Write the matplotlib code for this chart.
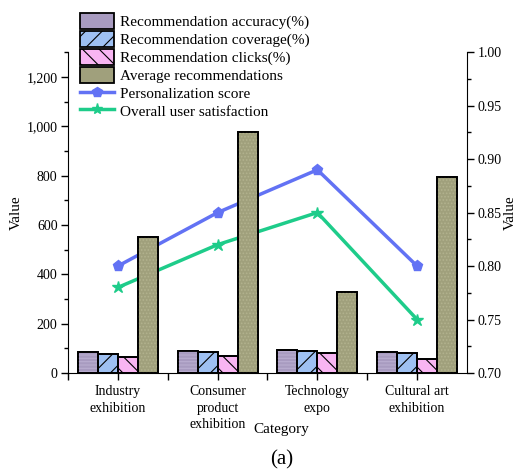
import numpy as np
import matplotlib.pyplot as plt
from matplotlib.ticker import MultipleLocator, FuncFormatter
from matplotlib.lines import Line2D
from matplotlib.patches import Patch

plt.rcParams['font.family'] = ['Liberation Serif', 'DejaVu Serif']
plt.rcParams['font.size'] = 11
plt.rcParams['hatch.linewidth'] = 0.8

# data
categories = ['Industry\nexhibition', 'Consumer\nproduct\nexhibition',
              'Technology\nexpo', 'Cultural art\nexhibition']
accuracy = [84, 89, 92, 84]
coverage = [75, 84, 88, 80]
clicks = [66, 70, 80, 58]
avg_recs = [551, 975, 327, 793]
personalization = [0.80, 0.85, 0.89, 0.80]
satisfaction = [0.78, 0.82, 0.85, 0.75]

bar_series = [
    ('Recommendation accuracy(%)', accuracy, '#a89bc0', '-----', '#b9aed0'),
    ('Recommendation coverage(%)', coverage, '#9ec0f2', '//', 'black'),
    ('Recommendation clicks(%)', clicks, '#f8b5f2', '\\\\', 'black'),
    ('Average recommendations', avg_recs, '#a0a07c', '.....', '#b2b28e'),
]

fig = plt.figure(figsize=(5.16, 4.74), dpi=100)
ax = fig.add_axes([0.1318, 0.2131, 0.7732, 0.6769])
ax2 = ax.twinx()

x = np.arange(len(categories)) + 0.5
w = 0.2
handles = []
for i, (name, vals, fc, hatch, hc) in enumerate(bar_series):
    pos = x - 0.3 + i * w
    ax.bar(pos, vals, w, color=fc, edgecolor='black', linewidth=1.3, zorder=3)
    ax.bar(pos, vals, w, color='none', edgecolor=hc, hatch=hatch, linewidth=0, zorder=3)
    ax.bar(pos, vals, w, color='none', edgecolor='black', linewidth=1.3, zorder=4)
    handles.append(Patch(facecolor=fc, edgecolor='black', hatch=hatch if hc == 'black' else None,
                         linewidth=1.3, label=name))

ax2.plot(x, personalization, color='#6272f4', lw=2.5, marker='p', ms=8, zorder=2)
ax2.plot(x, satisfaction, color='#1ecc8a', lw=2.5, marker='*', ms=9, zorder=2)
handles.append(Line2D([], [], color='#6272f4', lw=2.5, marker='p', ms=7, label='Personalization score'))
handles.append(Line2D([], [], color='#1ecc8a', lw=2.5, marker='*', ms=8, label='Overall user satisfaction'))

# lines behind bars
ax2.set_zorder(0)
ax.set_zorder(1)
ax.patch.set_visible(False)

ax.set_xlim(0, 4)
ax.set_ylim(0, 1300)
ax2.set_ylim(0.70, 1.00)
ax.set_xticks(x)
ax.set_xticklabels(categories, linespacing=1.35)
ax.set_xticks([0, 1, 2, 3], minor=True)
ax.yaxis.set_major_locator(MultipleLocator(200))
ax.yaxis.set_minor_locator(MultipleLocator(100))
ax.yaxis.set_major_formatter(FuncFormatter(lambda v, p: f'{int(v):,}'))
ax2.yaxis.set_major_locator(MultipleLocator(0.05))
ax2.yaxis.set_minor_locator(MultipleLocator(0.025))
ax2.yaxis.set_major_formatter(FuncFormatter(lambda v, p: f'{v:.2f}'))

for a in (ax, ax2):
    a.spines['top'].set_visible(False)
    a.tick_params(which='major', direction='out', length=5, width=1, labelsize=10, pad=2.5)
    a.tick_params(which='minor', direction='out', length=3, width=1)
ax.spines['right'].set_visible(False)
ax2.spines['left'].set_visible(False)
ax2.spines['bottom'].set_visible(False)
ax.tick_params(axis='x', which='minor', length=5)
ax.tick_params(axis='x', which='major', pad=4)

ax.set_ylabel('Value')
ax.yaxis.set_label_coords(-0.113, 0.5)
ax2.set_ylabel('Value', rotation=90)
ax2.yaxis.set_label_coords(1.092, 0.5)
fig.text(0.546, 0.093, 'Category', ha='center', va='center', fontsize=11)
fig.text(0.545, 0.030, '(a)', ha='center', va='center', fontsize=15)

leg = ax.legend(handles=handles, loc='upper left', bbox_to_anchor=(0.143, 0.985),
                bbox_transform=fig.transFigure, frameon=False, fontsize=11,
                handlelength=2.2, handleheight=1.2, labelspacing=0.12,
                handletextpad=0.4, borderaxespad=0)

fig.savefig('out.png', dpi=100)
